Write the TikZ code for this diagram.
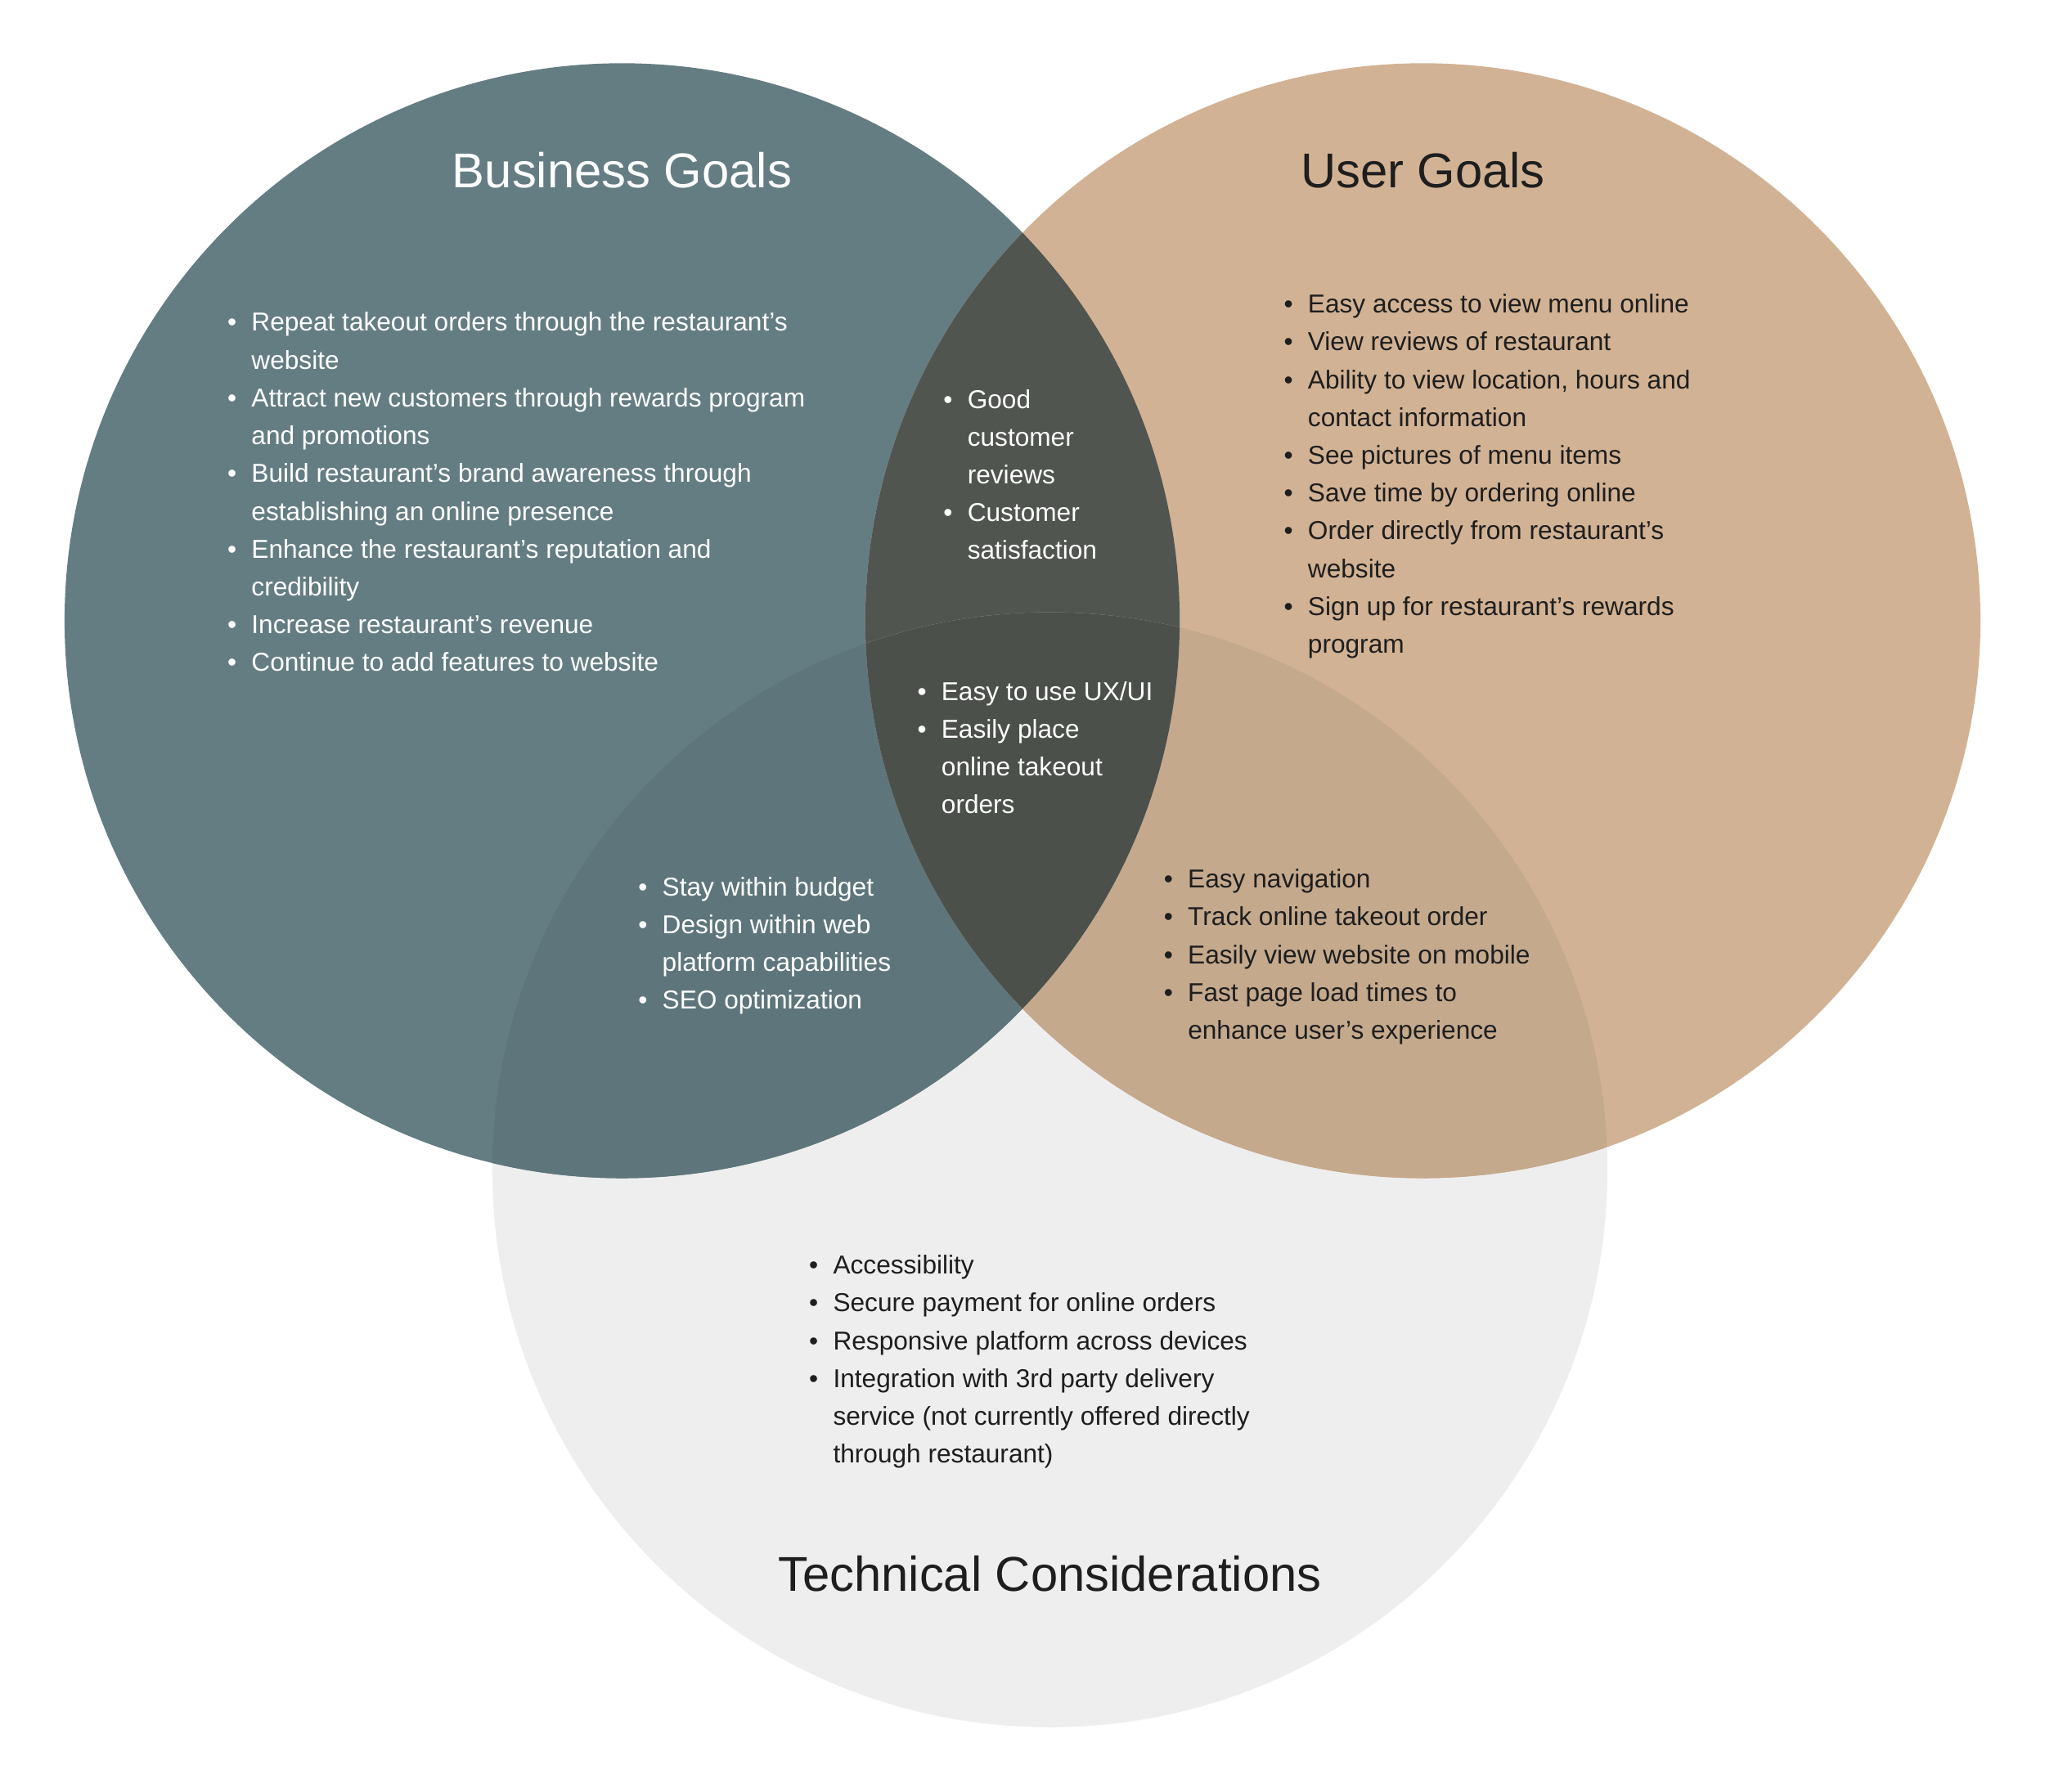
\documentclass[tikz,border=0pt]{standalone}
\usepackage{fontspec}
\setmainfont{Liberation Sans}
\definecolor{bizcol}{HTML}{647D82}
\definecolor{usercol}{HTML}{D2B294}
\definecolor{techcol}{HTML}{EEEEEE}
\definecolor{bizuser}{HTML}{50554F}
\definecolor{biztech}{HTML}{5E767B}
\definecolor{usertech}{HTML}{C4A98D}
\definecolor{allcol}{HTML}{4B504A}
\definecolor{ink}{HTML}{1E1E1E}

\begin{document}
\begin{tikzpicture}[x=0.01594cm, y=-0.01594cm,
    blist/.style={inner sep=0, anchor=base west, align=left, font=\fontsize{9}{13.15}\selectfont},
    title/.style={inner sep=0, anchor=base, text=ink, font=\fontsize{17}{20}\selectfont}]
    \fill[white] (0,0) rectangle (1568,1374);
    \useasboundingbox (0,0) rectangle (1568,1374);
    \coordinate (biz) at (477,476);
    \coordinate (user) at (1091,476);
    \coordinate (tech) at (805,897);
    % the three circles
    \fill[techcol] (tech) circle (427.5);
    \fill[bizcol] (biz) circle (427.5);
    \fill[usercol] (user) circle (427.5);
    % overlaps
    \begin{scope}
      \clip (biz) circle (427.5);
      \fill[bizuser] (user) circle (427.5);
      \fill[biztech] (tech) circle (427.5);
    \end{scope}
    \begin{scope}
      \clip (user) circle (427.5);
      \fill[usertech] (tech) circle (427.5);
    \end{scope}
    \begin{scope}
      \clip (biz) circle (427.5);
      \clip (user) circle (427.5);
      \fill[allcol] (tech) circle (427.5);
    \end{scope}
    % titles
    \node[title, text=white] (biztitle) at (477,144) {Business Goals};
    \node[title] (usertitle) at (1091,144) {User Goals};
    \node[title] (techtitle) at (805,1220) {Technical Considerations};
    % lists
    \node[blist, text=white] (bizlist) at (174,254) {\begin{tabular}[t]{@{}l@{\hspace{5.2pt}}l@{}}
      \textbullet & Repeat takeout orders through the restaurant’s\\
       & website\\
      \textbullet & Attract new customers through rewards program\\
       & and promotions\\
      \textbullet & Build restaurant’s brand awareness through\\
       & establishing an online presence\\
      \textbullet & Enhance the restaurant’s reputation and\\
       & credibility\\
      \textbullet & Increase restaurant’s revenue\\
      \textbullet & Continue to add features to website
    \end{tabular}};
    \node[blist, text=ink] (userlist) at (984,240) {\begin{tabular}[t]{@{}l@{\hspace{5.2pt}}l@{}}
      \textbullet & Easy access to view menu online\\
      \textbullet & View reviews of restaurant\\
      \textbullet & Ability to view location, hours and\\
       & contact information\\
      \textbullet & See pictures of menu items\\
      \textbullet & Save time by ordering online\\
      \textbullet & Order directly from restaurant’s\\
       & website\\
      \textbullet & Sign up for restaurant’s rewards\\
       & program
    \end{tabular}};
    \node[blist, text=white] (bizuserlist) at (723,313) {\begin{tabular}[t]{@{}l@{\hspace{5.2pt}}l@{}}
      \textbullet & Good\\
       & customer\\
       & reviews\\
      \textbullet & Customer\\
       & satisfaction
    \end{tabular}};
    \node[blist, text=white] (alllist) at (703,537) {\begin{tabular}[t]{@{}l@{\hspace{5.2pt}}l@{}}
      \textbullet & Easy to use UX/UI\\
      \textbullet & Easily place\\
       & online takeout\\
       & orders
    \end{tabular}};
    \node[blist, text=white] (biztechlist) at (489,687) {\begin{tabular}[t]{@{}l@{\hspace{5.2pt}}l@{}}
      \textbullet & Stay within budget\\
      \textbullet & Design within web\\
       & platform capabilities\\
      \textbullet & SEO optimization
    \end{tabular}};
    \node[blist, text=ink] (usertechlist) at (892,681) {\begin{tabular}[t]{@{}l@{\hspace{5.2pt}}l@{}}
      \textbullet & Easy navigation\\
      \textbullet & Track online takeout order\\
      \textbullet & Easily view website on mobile\\
      \textbullet & Fast page load times to\\
       & enhance user’s experience
    \end{tabular}};
    \node[blist, text=ink] (techlist) at (620,977) {\begin{tabular}[t]{@{}l@{\hspace{5.2pt}}l@{}}
      \textbullet & Accessibility\\
      \textbullet & Secure payment for online orders\\
      \textbullet & Responsive platform across devices\\
      \textbullet & Integration with 3rd party delivery\\
       & service (not currently offered directly\\
       & through restaurant)
    \end{tabular}};
\end{tikzpicture}
\end{document}
